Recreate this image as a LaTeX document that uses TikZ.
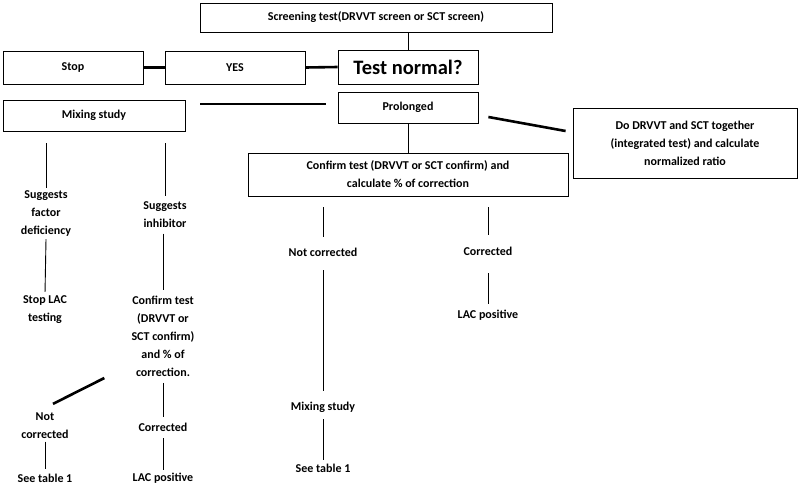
\documentclass[tikz,border=0pt]{standalone}
\usepackage{fontspec}
\setmainfont{Carlito}
\usepackage{tikz}

\tikzset{
  every node/.style={font=\bfseries\fontsize{12}{18}\selectfont, align=center, inner sep=2pt},
  box/.style={draw, line width=0.8pt, inner sep=0pt},
  link/.style={line width=0.9pt},
  bar/.style={line width=2.6pt}
}

\begin{document}
\begin{tikzpicture}[x=1pt, y=-1pt]
  \useasboundingbox (0,0) rectangle (800,490);

  % Kaesten
  \node[box, minimum width=352, minimum height=29] (screen) at (376,17.5) {Screening test(DRVVT screen or SCT screen)};
  \node[box, minimum width=140, minimum height=33] (stop) at (73,67.5) {Stop};
  \node[box, minimum width=140, minimum height=33] (yes) at (235,67.5) {YES};
  \node[box, minimum width=140, minimum height=34, font=\bfseries\fontsize{20.5}{20}\selectfont] (normal) at (408,67) {Test normal?};
  \node[box, minimum width=140, minimum height=31] (prol) at (408,107.5) {Prolonged};
  \node[box, minimum width=182, minimum height=31] (mix) at (94,115.5) {Mixing study};
  \node[box, minimum width=224, minimum height=70] (integr) at (685,143) {Do DRVVT and SCT together\\(integrated test) and calculate\\normalized ratio};
  \node[box, minimum width=320, minimum height=43] (conf) at (408,174.5) {Confirm test (DRVVT or SCT confirm) and\\calculate \% of correction};

  % linke Seite
  \node (factor) at (46,214) {Suggests\\factor\\deficiency};
  \node (stoplac) at (45,310) {Stop LAC\\testing};
  \node (inhib) at (165,214.5) {Suggests\\inhibitor};
  \node (conftest) at (163,336) {Confirm test\\(DRVVT or\\SCT confirm)\\and \% of\\correction.};
  \node (notcor) at (45,426) {Not\\corrected};
  \node (table) at (45,478) {See table 1};
  \node (cor) at (163,427) {Corrected};
  \node (lacpos) at (163,478) {LAC positive};

  % Mitte
  \node (notcorb) at (323,252) {Not corrected};
  \node (mixb) at (323,407) {Mixing study};
  \node (tableb) at (323,468) {See table 1};
  \node (corb) at (488,251) {Corrected};
  \node (lacposb) at (488,315) {LAC positive};

  % Verbindungen
  \begin{scope}[bar]
    \draw (stop.east) -- (yes.west);
    \draw (yes.east) -- (normal.west);
    \draw[shorten <=15pt, shorten >=12pt] ([yshift=3.5pt]prol.west -| mix.east) -- ([yshift=3.5pt]prol.west);
    \draw ([xshift=10pt, yshift=-9.5pt]prol.east) -- ([xshift=-7pt, yshift=12pt]integr.west);
    \draw ([xshift=-25pt, yshift=-42pt]conftest.west) -- ([xshift=8pt, yshift=7pt]notcor.north);
  \end{scope}

  \begin{scope}[link]
    \draw (screen.south -| normal) -- (normal.north);
    \draw (prol.south) -- (conf.north);
    \draw[shorten <=12pt, shorten >=1pt] (mix.south -| factor) -- (factor.north);
    \draw[shorten >=2pt] (factor.south) -- (stoplac.north);
    \draw[shorten <=12pt, shorten >=3.5pt] (mix.south -| inhib) -- (inhib.north);
    \draw[shorten <=4pt, shorten >=4pt] (inhib.south -| conftest) -- (conftest.north);
    \draw[shorten <=4.5pt, shorten >=4pt] (conftest.south) -- (cor.north);
    \draw[shorten <=5pt, shorten >=0.5pt] (cor.south) -- (lacpos.north);
    \draw[shorten <=0.5pt, shorten >=3pt] (notcor.south) -- (table.north);
    \draw[shorten <=11pt, shorten >=9pt] (conf.south -| notcorb) -- (notcorb.north);
    \draw[shorten <=12pt, shorten >=9pt] (notcorb.south) -- (mixb.north);
    \draw[shorten <=5pt, shorten >=2pt] (mixb.south) -- (tableb.north);
    \draw[shorten <=11pt, shorten >=10pt] (conf.south -| corb) -- (corb.north);
    \draw[shorten <=16pt, shorten >=4pt] (corb.south) -- (lacposb.north);
  \end{scope}
\end{tikzpicture}
\end{document}
